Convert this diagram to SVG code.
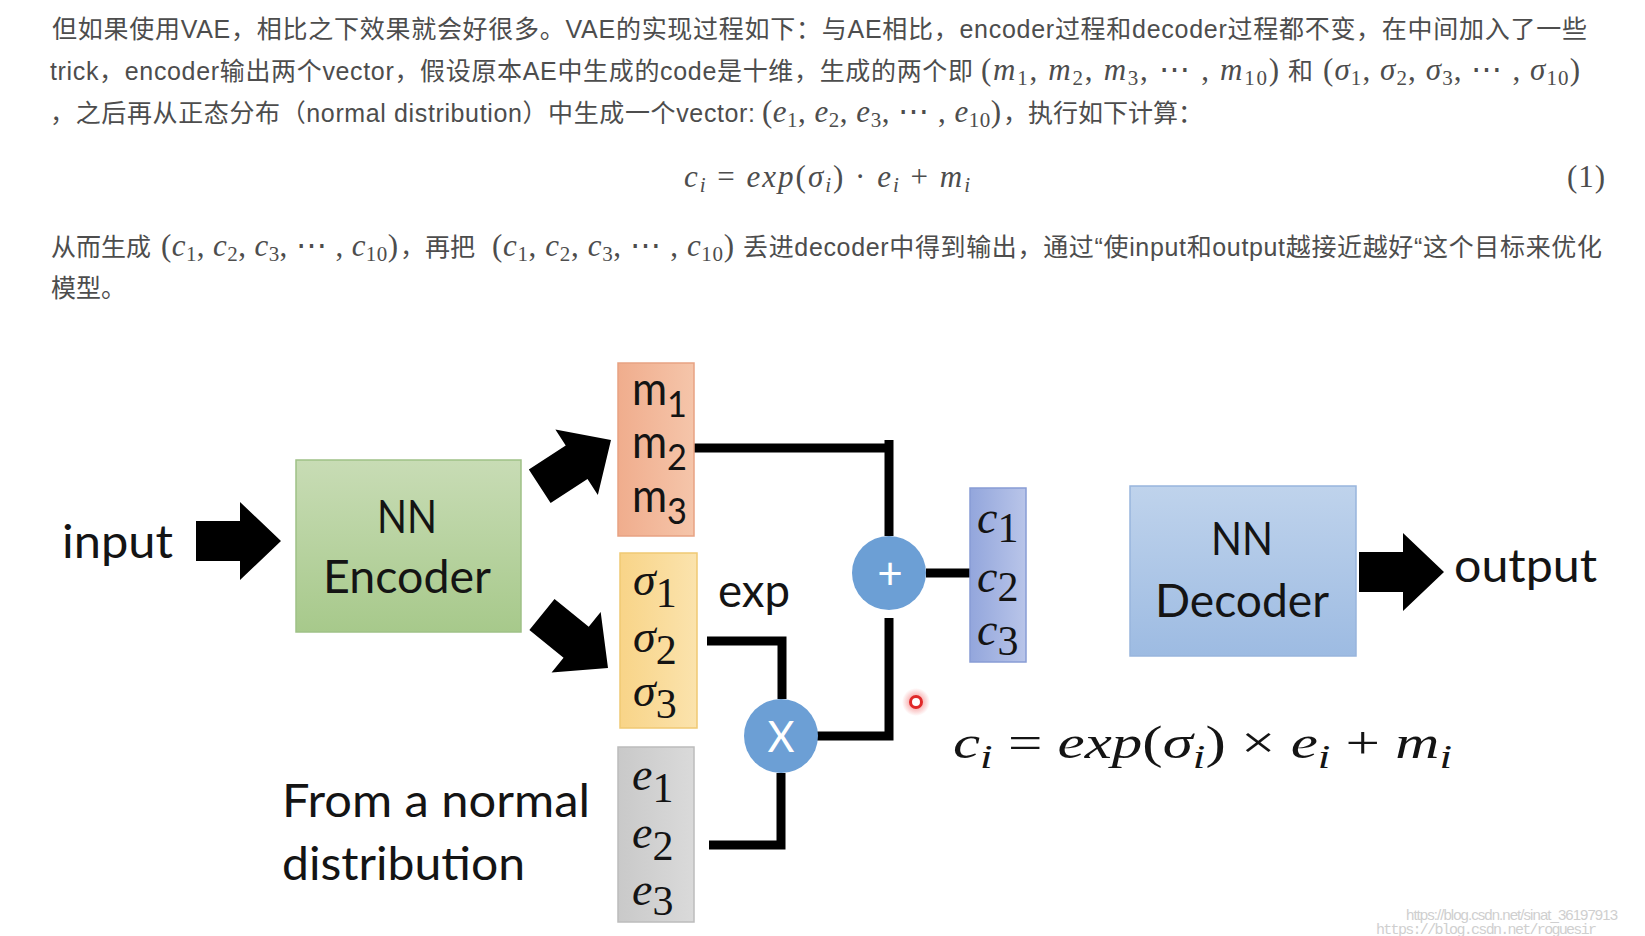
<svg xmlns="http://www.w3.org/2000/svg" width="1645" height="936" viewBox="0 0 1645 936">
<style>
.t{font-family:"Liberation Sans","Noto Sans CJK SC",sans-serif;font-size:25px;fill:#4d4d4d}
.mt{font-family:"Liberation Serif","DejaVu Serif",serif;font-size:31px;fill:#4d4d4d}
.it{font-style:italic}
.sb{font-size:21px}
.lb{font-family:Lato,"Open Sans",sans-serif;font-size:46px;fill:#141414}
.mi{font-family:"Liberation Serif","DejaVu Serif",serif;font-style:italic;font-size:46px;fill:#141414}
.ds{font-size:42px;font-style:normal}
.ms{font-size:37px}
.wire{fill:none;stroke:#000;stroke-width:9;stroke-linejoin:miter;stroke-linecap:butt}
.op{font-family:Lato,"Open Sans",sans-serif;fill:#fff;text-anchor:middle}
.wm{font-size:15px;fill:#cfcfcf}
</style>
<defs>
<path id="arr" d="M0,0 L-41,-39 L-41,-20 L-85,-20 L-85,20 L-41,20 L-41,39 Z" fill="#000"/>
<linearGradient id="gEnc" x1="0" y1="0" x2="0" y2="1"><stop offset="0" stop-color="#c8dcb5"/><stop offset="1" stop-color="#a7c98b"/></linearGradient>
<linearGradient id="gDec" x1="0" y1="0" x2="0" y2="1"><stop offset="0" stop-color="#bfd3ec"/><stop offset="1" stop-color="#9dbbe2"/></linearGradient>
<linearGradient id="gM" x1="0" y1="0" x2="1" y2="0"><stop offset="0" stop-color="#f0ad8d"/><stop offset="1" stop-color="#f5c5aa"/></linearGradient>
<linearGradient id="gS" x1="0" y1="0" x2="1" y2="0"><stop offset="0" stop-color="#f8d488"/><stop offset="1" stop-color="#fbe3ad"/></linearGradient>
<linearGradient id="gE" x1="0" y1="0" x2="1" y2="0"><stop offset="0" stop-color="#c9c9c9"/><stop offset="1" stop-color="#dadada"/></linearGradient>
<linearGradient id="gC" x1="0" y1="0" x2="1" y2="0"><stop offset="0" stop-color="#93a6dc"/><stop offset="1" stop-color="#b9c5e9"/></linearGradient>
<radialGradient id="gGlow"><stop offset="0.4" stop-color="#f06060" stop-opacity="0.5"/><stop offset="1" stop-color="#f06060" stop-opacity="0"/></radialGradient>
</defs>
<rect width="1645" height="936" fill="#fff"/>

<g id="paragraph">
<text class="t" x="52" y="38" textLength="1535">但如果使用VAE，相比之下效果就会好很多。VAE的实现过程如下：与AE相比，encoder过程和decoder过程都不变，在中间加入了一些</text>
<text class="t" x="50" y="80" textLength="923">trick，encoder输出两个vector，假设原本AE中生成的code是十维，生成的两个即</text>
<text class="mt" x="981" y="80" textLength="298">(<tspan class="it">m</tspan><tspan class="sb" dy="5">1</tspan><tspan dy="-5">, </tspan><tspan class="it">m</tspan><tspan class="sb" dy="5">2</tspan><tspan dy="-5">, </tspan><tspan class="it">m</tspan><tspan class="sb" dy="5">3</tspan><tspan dy="-5">, ⋯ , </tspan><tspan class="it">m</tspan><tspan class="sb" dy="5">10</tspan><tspan dy="-5">)</tspan></text>
<text class="t" x="1288" y="80">和</text>
<text class="mt" x="1323" y="80" textLength="257">(<tspan class="it">σ</tspan><tspan class="sb" dy="5">1</tspan><tspan dy="-5">, </tspan><tspan class="it">σ</tspan><tspan class="sb" dy="5">2</tspan><tspan dy="-5">, </tspan><tspan class="it">σ</tspan><tspan class="sb" dy="5">3</tspan><tspan dy="-5">, ⋯ , </tspan><tspan class="it">σ</tspan><tspan class="sb" dy="5">10</tspan><tspan dy="-5">)</tspan></text>
<text class="t" x="50" y="122" textLength="705">，之后再从正态分布（normal distribution）中生成一个vector:</text>
<text class="mt" x="762" y="122" textLength="239">(<tspan class="it">e</tspan><tspan class="sb" dy="5">1</tspan><tspan dy="-5">, </tspan><tspan class="it">e</tspan><tspan class="sb" dy="5">2</tspan><tspan dy="-5">, </tspan><tspan class="it">e</tspan><tspan class="sb" dy="5">3</tspan><tspan dy="-5">, ⋯ , </tspan><tspan class="it">e</tspan><tspan class="sb" dy="5">10</tspan><tspan dy="-5">)</tspan></text>
<text class="t" x="1003" y="122">，执行如下计算：</text>
<text class="mt" x="684" y="187" textLength="286"><tspan class="it">c</tspan><tspan class="sb it" dy="5">i</tspan><tspan dy="-5"> = </tspan><tspan class="it">exp</tspan>(<tspan class="it">σ</tspan><tspan class="sb it" dy="5">i</tspan><tspan dy="-5">) · </tspan><tspan class="it">e</tspan><tspan class="sb it" dy="5">i</tspan><tspan dy="-5"> + </tspan><tspan class="it">m</tspan><tspan class="sb it" dy="5">i</tspan></text>
<text class="mt" x="1567" y="187" textLength="38">(1)</text>
<text class="t" x="51" y="256">从而生成</text>
<text class="mt" x="161" y="256" textLength="237">(<tspan class="it">c</tspan><tspan class="sb" dy="5">1</tspan><tspan dy="-5">, </tspan><tspan class="it">c</tspan><tspan class="sb" dy="5">2</tspan><tspan dy="-5">, </tspan><tspan class="it">c</tspan><tspan class="sb" dy="5">3</tspan><tspan dy="-5">, ⋯ , </tspan><tspan class="it">c</tspan><tspan class="sb" dy="5">10</tspan><tspan dy="-5">)</tspan></text>
<text class="t" x="400" y="256">，再把</text>
<text class="mt" x="492" y="256" textLength="242">(<tspan class="it">c</tspan><tspan class="sb" dy="5">1</tspan><tspan dy="-5">, </tspan><tspan class="it">c</tspan><tspan class="sb" dy="5">2</tspan><tspan dy="-5">, </tspan><tspan class="it">c</tspan><tspan class="sb" dy="5">3</tspan><tspan dy="-5">, ⋯ , </tspan><tspan class="it">c</tspan><tspan class="sb" dy="5">10</tspan><tspan dy="-5">)</tspan></text>
<text class="t" x="743" y="256" textLength="859">丢进decoder中得到输出，通过“使input和output越接近越好“这个目标来优化</text>
<text class="t" x="51" y="297">模型。</text>
</g>

<g id="connectors">
<use href="#arr" transform="translate(281,541)"/>
<use href="#arr" transform="translate(611,440) rotate(-33)"/>
<use href="#arr" transform="translate(608,668) rotate(39)"/>
<use href="#arr" transform="translate(1444,572)"/>
<path class="wire" d="M694,448 H893"/>
<path class="wire" d="M889,440 V536"/>
<path class="wire" d="M926,573 H970"/>
<path class="wire" d="M707,641 H782 V699"/>
<path class="wire" d="M817,736 H889 V618"/>
<path class="wire" d="M709,845 H781 V773"/>
</g>

<g id="input-label"><text class="lb" x="62" y="558" textLength="111" lengthAdjust="spacingAndGlyphs">input</text></g>

<g id="encoder">
<rect x="296" y="460" width="225" height="172" fill="url(#gEnc)" stroke="#9fc187" stroke-width="1.5"/>
<text class="lb" x="377" y="533" textLength="60" lengthAdjust="spacingAndGlyphs">NN</text>
<text class="lb" x="323" y="593" textLength="168" lengthAdjust="spacingAndGlyphs">Encoder</text>
</g>

<g id="m-vector">
<rect x="618" y="363" width="76" height="173" fill="url(#gM)" stroke="#e7a283" stroke-width="1.5"/>
<text class="lb" x="632" y="405" textLength="55" lengthAdjust="spacingAndGlyphs">m<tspan class="ms" dy="12">1</tspan></text>
<text class="lb" x="632" y="458" textLength="55" lengthAdjust="spacingAndGlyphs">m<tspan class="ms" dy="12">2</tspan></text>
<text class="lb" x="632" y="512" textLength="55" lengthAdjust="spacingAndGlyphs">m<tspan class="ms" dy="12">3</tspan></text>
</g>

<g id="sigma-vector">
<rect x="620" y="553" width="77" height="175" fill="url(#gS)" stroke="#f0c973" stroke-width="1.5"/>
<text class="mi" x="633" y="595">σ<tspan class="ds" dy="12">1</tspan></text>
<text class="mi" x="633" y="652">σ<tspan class="ds" dy="12">2</tspan></text>
<text class="mi" x="633" y="706">σ<tspan class="ds" dy="12">3</tspan></text>
</g>

<g id="exp-label"><text class="lb" x="718" y="607" textLength="72" lengthAdjust="spacingAndGlyphs">exp</text></g>

<g id="e-vector">
<rect x="618" y="747" width="76" height="175" fill="url(#gE)" stroke="#bcbcbc" stroke-width="1.5"/>
<text class="mi" x="632" y="790">e<tspan class="ds" dy="12">1</tspan></text>
<text class="mi" x="632" y="848">e<tspan class="ds" dy="12">2</tspan></text>
<text class="mi" x="632" y="905">e<tspan class="ds" dy="10">3</tspan></text>
</g>

<g id="normal-label">
<text class="lb" x="282" y="817" textLength="308" lengthAdjust="spacingAndGlyphs">From a normal</text>
<text class="lb" x="282" y="880" textLength="243" lengthAdjust="spacingAndGlyphs">distribution</text>
</g>

<g id="plus-op">
<circle cx="889" cy="573" r="37" fill="#6c9fd5"/>
<text class="op" x="890" y="589" font-size="44">+</text>
</g>

<g id="times-op">
<circle cx="781" cy="736" r="37" fill="#6c9fd5"/>
<text class="op" x="781" y="752" font-size="42" textLength="27" lengthAdjust="spacingAndGlyphs">X</text>
</g>

<g id="c-vector">
<rect x="970" y="488" width="56" height="174" fill="url(#gC)" stroke="#889cd5" stroke-width="1.5"/>
<text class="mi" x="977" y="533">c<tspan class="ds" dy="9">1</tspan></text>
<text class="mi" x="977" y="592">c<tspan class="ds" dy="9">2</tspan></text>
<text class="mi" x="977" y="645">c<tspan class="ds" dy="10">3</tspan></text>
</g>

<g id="decoder">
<rect x="1130" y="486" width="226" height="170" fill="url(#gDec)" stroke="#98b5dd" stroke-width="1.5"/>
<text class="lb" x="1211" y="555" textLength="62" lengthAdjust="spacingAndGlyphs">NN</text>
<text class="lb" x="1155" y="617" textLength="174" lengthAdjust="spacingAndGlyphs">Decoder</text>
</g>

<g id="output-label"><text class="lb" x="1454" y="582" textLength="143" lengthAdjust="spacingAndGlyphs">output</text></g>

<g id="pointer">
<circle cx="916" cy="702" r="14" fill="url(#gGlow)"/>
<circle cx="916" cy="702" r="5.5" fill="#fff" stroke="#e02828" stroke-width="3"/>
</g>

<g id="formula">
<text class="mi" x="953" y="758" font-size="50" textLength="499" lengthAdjust="spacingAndGlyphs">c<tspan font-size="34" dy="10">i</tspan><tspan font-style="normal" dy="-10"> = </tspan>exp<tspan font-style="normal">(</tspan>σ<tspan font-size="34" dy="10">i</tspan><tspan font-style="normal" dy="-10">) × </tspan>e<tspan font-size="34" dy="10">i</tspan><tspan font-style="normal" dy="-10"> + </tspan>m<tspan font-size="34" dy="10">i</tspan></text>
</g>

<g id="watermark">
<text class="wm" x="1406" y="920" font-family="Liberation Sans,sans-serif" textLength="212">https://blog.csdn.net/sinat_36197913</text>
<text class="wm" x="1376" y="934" font-family="Liberation Mono,monospace" textLength="221" fill="#c4c4c4">https://blog.csdn.net/roguesir</text>
</g>
</svg>
